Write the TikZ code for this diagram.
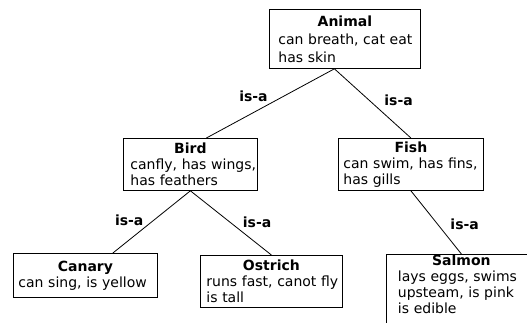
\documentclass[tikz,border=0pt]{standalone}
\usepackage{fontspec}
\setmainfont{DejaVu Sans}
\usepackage{tikz}
\usetikzlibrary{positioning}
\tikzset{
  concept/.style={
    rectangle,
    draw=black,
    fill=white,
    line width=0.8pt,
    anchor=north west,
    align=left,
    inner ysep=0pt,
    font=\fontsize{14}{16}\selectfont
  },
  isa/.style={font=\fontsize{14}{16}\selectfont\bfseries, inner sep=0pt},
  link/.style={draw=black, line width=0.8pt}
}

\begin{document}
\begin{tikzpicture}[x=1pt, y=-1pt]
  \path[use as bounding box, fill=white] (0,0) rectangle (527,322);
  \clip (0,0) rectangle (527,322);

  \node[concept, inner xsep=9pt, text width=133pt, minimum height=59pt, font=\fontsize{14}{18}\selectfont] (animal) at (269,9)
    {\makebox[\linewidth]{\bfseries Animal}\\\mbox{can breath, cat eat}\\has skin};
  \node[concept, inner xsep=7pt, text width=120pt, minimum height=52pt] (bird) at (123,138)
    {\makebox[\linewidth]{\bfseries Bird}\\\mbox{canfly, has wings,}\\has feathers};
  \node[concept, inner xsep=5pt, text width=135pt, minimum height=52pt] (fish) at (338,138)
    {\makebox[\linewidth]{\bfseries Fish}\\\mbox{can swim, has fins,}\\has gills};
  \node[concept, inner xsep=5pt, text width=134pt, minimum height=44pt] (canary) at (13,253)
    {\makebox[\linewidth]{\bfseries Canary}\\can sing, is yellow};
  \node[concept, inner xsep=6pt, text width=130pt, minimum height=52pt] (ostrich) at (200,255)
    {\makebox[\linewidth]{\bfseries Ostrich}\\\mbox{runs fast, canot fly}\\is tall};
  \node[concept, inner xsep=11.5pt, inner ysep=0.4pt, text width=127pt, text depth=60pt] (salmon) at (386,254)
    {\makebox[\linewidth]{\bfseries Salmon}\\lays eggs, swims\\upsteam, is pink\\is edible};

  \draw[link] ([xshift=-10.5pt]animal.south) -- node[isa, pos=0.39, xshift=-31pt] (isabird) {is-a} ([xshift=16pt]bird.north);
  \draw[link] ([xshift=-10.5pt]animal.south) -- node[isa, pos=0.46, xshift=29pt] (isafish) {is-a} (fish.north);
  \draw[link] (bird.south) -- node[isa, pos=0.48, xshift=-24pt] (isacanary) {is-a} ([xshift=27.5pt]canary.north);
  \draw[link] (bird.south) -- node[isa, pos=0.49, xshift=27pt] (isaostrich) {is-a} (ostrich.north);
  \draw[link] (fish.south) -- node[isa, pos=0.53, xshift=27pt] (isasalmon) {is-a} (salmon.north);
\end{tikzpicture}
\end{document}
